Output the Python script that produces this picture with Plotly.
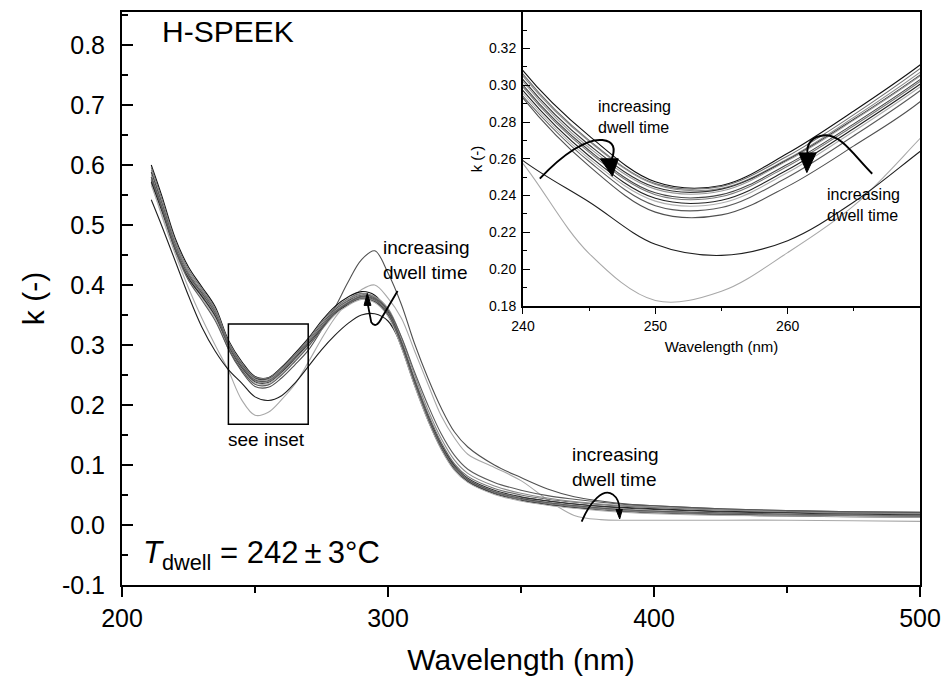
import plotly.graph_objects as go

# ---------------- data ----------------
wavelength = [211, 215, 220, 225, 230, 235, 240, 245, 250, 255, 260, 265, 270, 275, 280, 285,
              290, 295, 300, 305, 310, 315, 320, 325, 330, 340, 350, 360, 370, 380, 390, 400,
              425, 450, 475, 500]

k_c1 = [0.570, 0.515, 0.452, 0.395, 0.345, 0.300, 0.2574, 0.2085, 0.1830, 0.1880, 0.2090, 0.2345,
        0.271, 0.310, 0.345, 0.372, 0.392, 0.400, 0.378, 0.345, 0.290, 0.235, 0.182, 0.145, 0.118,
        0.096, 0.074, 0.042, 0.016, 0.009, 0.008, 0.008, 0.008, 0.008, 0.007, 0.006]
k_c2 = [0.542, 0.498, 0.440, 0.382, 0.330, 0.290, 0.259, 0.2365, 0.2135, 0.2075, 0.2155, 0.2365,
        0.264, 0.292, 0.316, 0.336, 0.350, 0.352, 0.340, 0.300, 0.238, 0.180, 0.132, 0.097, 0.076,
        0.056, 0.046, 0.040, 0.035, 0.031, 0.029, 0.027, 0.023, 0.021, 0.020, 0.019]
k_c3 = [0.575, 0.525, 0.458, 0.410, 0.380, 0.347, 0.293, 0.256, 0.2310, 0.2295, 0.2450, 0.2670,
        0.291, 0.325, 0.362, 0.405, 0.442, 0.457, 0.420, 0.368, 0.302, 0.245, 0.195, 0.155, 0.130,
        0.100, 0.079, 0.060, 0.047, 0.040, 0.035, 0.032, 0.027, 0.024, 0.022, 0.021]
k_c4 = [0.600, 0.548, 0.478, 0.430, 0.397, 0.364, 0.308, 0.2725, 0.2475, 0.2455, 0.2630, 0.2860,
        0.311, 0.340, 0.364, 0.380, 0.389, 0.383, 0.355, 0.302, 0.236, 0.177, 0.128, 0.094, 0.074,
        0.054, 0.044, 0.037, 0.032, 0.028, 0.025, 0.023, 0.019, 0.017, 0.016, 0.015]
k_c5 = [0.596, 0.543, 0.474, 0.426, 0.394, 0.361, 0.306, 0.2700, 0.2465, 0.2450, 0.2615, 0.2840,
        0.309, 0.337, 0.361, 0.377, 0.386, 0.380, 0.358, 0.308, 0.244, 0.186, 0.138, 0.102, 0.081,
        0.061, 0.050, 0.043, 0.038, 0.034, 0.031, 0.029, 0.025, 0.022, 0.020, 0.019]
k_c6 = [0.592, 0.539, 0.471, 0.423, 0.392, 0.359, 0.305, 0.2695, 0.2460, 0.2440, 0.2600, 0.2825,
        0.307, 0.334, 0.359, 0.375, 0.385, 0.381, 0.361, 0.313, 0.250, 0.192, 0.144, 0.108, 0.086,
        0.065, 0.053, 0.045, 0.039, 0.035, 0.032, 0.030, 0.025, 0.022, 0.020, 0.019]
k_c7 = [0.588, 0.535, 0.467, 0.419, 0.389, 0.356, 0.303, 0.2675, 0.2445, 0.2435, 0.2595, 0.2815,
        0.3055, 0.333, 0.358, 0.373, 0.383, 0.378, 0.355, 0.304, 0.240, 0.182, 0.134, 0.099, 0.078,
        0.058, 0.047, 0.040, 0.035, 0.031, 0.028, 0.026, 0.022, 0.020, 0.018, 0.017]
k_c8 = [0.584, 0.532, 0.465, 0.418, 0.388, 0.355, 0.302, 0.2660, 0.2435, 0.2425, 0.2590, 0.2810,
        0.305, 0.332, 0.357, 0.372, 0.382, 0.377, 0.353, 0.301, 0.237, 0.179, 0.131, 0.096, 0.076,
        0.056, 0.045, 0.038, 0.033, 0.029, 0.026, 0.024, 0.020, 0.018, 0.016, 0.015]
k_c9 = [0.580, 0.529, 0.462, 0.416, 0.386, 0.353, 0.300, 0.2645, 0.2415, 0.2405, 0.2570, 0.2790,
        0.303, 0.330, 0.355, 0.370, 0.380, 0.375, 0.352, 0.300, 0.236, 0.178, 0.130, 0.095, 0.075,
        0.055, 0.044, 0.037, 0.032, 0.028, 0.025, 0.023, 0.020, 0.018, 0.016, 0.015]
k_c10 = [0.576, 0.526, 0.460, 0.414, 0.384, 0.351, 0.299, 0.2635, 0.2405, 0.2395, 0.2560, 0.2780,
         0.302, 0.329, 0.354, 0.369, 0.379, 0.374, 0.351, 0.299, 0.235, 0.177, 0.129, 0.094, 0.074,
         0.054, 0.043, 0.036, 0.031, 0.027, 0.024, 0.022, 0.019, 0.017, 0.016, 0.015]
k_c11 = [0.572, 0.522, 0.457, 0.411, 0.381, 0.348, 0.297, 0.2615, 0.2385, 0.2375, 0.2540, 0.2765,
         0.3005, 0.327, 0.352, 0.367, 0.377, 0.372, 0.349, 0.297, 0.233, 0.175, 0.127, 0.092, 0.072,
         0.052, 0.041, 0.034, 0.029, 0.025, 0.022, 0.020, 0.017, 0.015, 0.014, 0.013]
k_c12 = [0.566, 0.518, 0.454, 0.408, 0.378, 0.345, 0.2955, 0.2600, 0.2370, 0.2360, 0.2525, 0.2750,
         0.299, 0.325, 0.350, 0.366, 0.376, 0.371, 0.348, 0.296, 0.232, 0.174, 0.126, 0.091, 0.071,
         0.051, 0.040, 0.033, 0.028, 0.024, 0.021, 0.019, 0.016, 0.015, 0.014, 0.013]
k_c13 = [0.580, 0.528, 0.460, 0.408, 0.375, 0.341, 0.294, 0.2585, 0.2345, 0.2335, 0.2500, 0.2725,
         0.297, 0.326, 0.353, 0.370, 0.381, 0.377, 0.358, 0.314, 0.255, 0.200, 0.152, 0.116, 0.093,
         0.071, 0.058, 0.049, 0.043, 0.038, 0.034, 0.032, 0.027, 0.024, 0.022, 0.021]

series = [k_c1, k_c2, k_c3, k_c4, k_c5, k_c6, k_c7, k_c8, k_c9, k_c10, k_c11, k_c12, k_c13]
colors = ["#a8a8a8", "#1e1e1e", "#505050", "#111111", "#6e6e6e", "#8a8a8a", "#333333",
          "#9a9a9a", "#444444", "#7a7a7a", "#222222", "#b0b0b0", "#5a5a5a"]

main_yticks = [-0.1, 0.0, 0.1, 0.2, 0.3, 0.4, 0.5, 0.6, 0.7, 0.8]
main_yticktext = ["-0.1", "0.0", "0.1", "0.2", "0.3", "0.4", "0.5", "0.6", "0.7", "0.8"]
main_xticks = [200, 300, 400, 500]
inset_xticks = [240, 250, 260]
inset_yticks = [0.18, 0.20, 0.22, 0.24, 0.26, 0.28, 0.30, 0.32]

FONT = "Liberation Sans, Arial, sans-serif"

fig = go.Figure()
for vals, col in zip(series, colors):
    fig.add_trace(go.Scatter(x=wavelength, y=vals, mode="lines",
                             line=dict(color=col, width=1.1, shape="spline", smoothing=1.0),
                             xaxis="x", yaxis="y", showlegend=False, hoverinfo="skip"))
for vals, col in zip(series, colors):
    fig.add_trace(go.Scatter(x=wavelength, y=vals, mode="lines",
                             line=dict(color=col, width=1.1, shape="spline", smoothing=1.0),
                             xaxis="x2", yaxis="y2", showlegend=False, hoverinfo="skip"))

axis_common = dict(showgrid=False, zeroline=False, linecolor="black", tickcolor="black",
                   showline=True, automargin=False)

fig.update_layout(
    template="none",
    width=943, height=676,
    margin=dict(l=122, r=23, t=12, b=91, autoexpand=False),
    paper_bgcolor="white", plot_bgcolor="white",
    font=dict(family=FONT, color="black"),
    xaxis=dict(**axis_common, domain=[0, 1], range=[200, 500], linewidth=2, mirror=True,
               tickvals=main_xticks, ticks="outside", ticklen=10, tickwidth=1.5,
               minor=dict(ticks="outside", ticklen=6, tickwidth=1.5, tickvals=[250, 350, 450],
                          tickcolor="black"),
               tickfont=dict(size=25), ticklabelstandoff=0,
               title=dict(text="Wavelength (nm)", font=dict(size=30), standoff=24),
               anchor="y"),
    yaxis=dict(**axis_common, domain=[0, 1], range=[-0.1, 0.855], linewidth=2, mirror=True,
               tickvals=main_yticks, ticktext=main_yticktext, ticks="inside", ticklen=11,
               tickwidth=1.5,
               minor=dict(ticks="inside", ticklen=6, tickwidth=1.5, dtick=0.05, tick0=0,
                          tickcolor="black"),
               tickfont=dict(size=25), ticklabelstandoff=10,
               title=dict(text="k (-)", font=dict(size=30), standoff=8),
               anchor="x"),
    xaxis2=dict(**axis_common, domain=[0.5025, 1.0], range=[240, 270], linewidth=2,
                tickvals=inset_xticks, ticks="outside", ticklen=6, tickwidth=1,
                minor=dict(ticks="outside", ticklen=3, tickwidth=1, tickvals=[245, 255, 265],
                           tickcolor="black"),
                tickfont=dict(size=14), ticklabelstandoff=0,
                title=dict(text="Wavelength (nm)", font=dict(size=15), standoff=9),
                anchor="y2"),
    yaxis2=dict(**axis_common, domain=[0.487, 1.0], range=[0.18, 0.3398], linewidth=2,
                tickvals=inset_yticks, tickformat=".2f", ticks="inside", ticklen=7, tickwidth=1,
                minor=dict(ticks="inside", ticklen=4, tickwidth=1, dtick=0.01, tick0=0.18,
                           tickcolor="black"),
                tickfont=dict(size=14), ticklabelstandoff=2,
                title=dict(text="k (-)", font=dict(size=15), standoff=3),
                anchor="x2"),
)

shapes = []
# "see inset" box
shapes.append(dict(type="rect", xref="x", yref="y", x0=240, x1=270, y0=0.168, y1=0.335,
                   line=dict(color="black", width=1.5)))
# main peak arrow (loop)
shapes.append(dict(type="path", xref="x", yref="y",
                   path="M 303.6 0.3900 L 297.6 0.345 Q 295.5 0.326 293.7 0.338 L 292.4 0.368",
                   line=dict(color="black", width=1.8)))
shapes.append(dict(type="path", xref="x", yref="y",
                   path="M 291.0 0.366 L 293.6 0.366 L 292.2 0.386 Z",
                   fillcolor="black", line=dict(color="black", width=1)))
# tail arrow
shapes.append(dict(type="path", xref="x", yref="y",
                   path="M 372.8 0.0055 C 376 0.040 381 0.062 384.5 0.051 C 386.6 0.044 387.1 0.034 387.0 0.024",
                   line=dict(color="black", width=1.8)))
shapes.append(dict(type="path", xref="x", yref="y",
                   path="M 385.7 0.026 L 388.1 0.026 L 387.1 0.010 Z",
                   fillcolor="black", line=dict(color="black", width=1)))
# inset arrows
shapes.append(dict(type="path", xref="x2", yref="y2",
                   path="M 241.27 0.2492 C 243.0 0.2625 244.8 0.2712 246.0 0.2702 C 246.9 0.2695 247.0 0.2655 246.7 0.2595",
                   line=dict(color="black", width=2)))
shapes.append(dict(type="path", xref="x2", yref="y2",
                   path="M 245.85 0.2600 L 247.2 0.2600 L 246.75 0.2505 Z",
                   fillcolor="black", line=dict(color="black", width=1)))
shapes.append(dict(type="path", xref="x2", yref="y2",
                   path="M 266.39 0.2519 C 265.0 0.2620 264.0 0.2735 262.8 0.2728 C 261.8 0.2722 261.4 0.2680 261.5 0.2625",
                   line=dict(color="black", width=2)))
shapes.append(dict(type="path", xref="x2", yref="y2",
                   path="M 260.85 0.2632 L 262.15 0.2632 L 261.45 0.2525 Z",
                   fillcolor="black", line=dict(color="black", width=1)))
fig.update_layout(shapes=shapes)

ann = []
ann.append(dict(text="H-SPEEK", x=214.3, y=0.823, xref="x", yref="y", xanchor="left",
                yanchor="middle", showarrow=False, font=dict(size=30)))
ann.append(dict(text="<i>T</i><sub>dwell</sub> = 242\u2009±\u20093°C", x=0.024, y=-0.050,
                xref="paper", yref="y", xanchor="left", yanchor="middle", showarrow=False,
                font=dict(size=31)))
ann.append(dict(text="increasing<br>dwell time", x=297.3, y=0.483, xref="x", yref="y",
                xanchor="left", yanchor="top", align="left", showarrow=False,
                font=dict(size=19)))
ann.append(dict(text="see inset", x=254.5, y=0.143, xref="x", yref="y",
                xanchor="center", yanchor="middle", showarrow=False, font=dict(size=19)))
ann.append(dict(text="increasing<br>dwell time", x=368.5, y=0.138, xref="x", yref="y",
                xanchor="left", yanchor="top", align="left", showarrow=False,
                font=dict(size=19)))
ann.append(dict(text="increasing<br>dwell time", x=245.5, y=0.2940, xref="x2", yref="y2",
                xanchor="left", yanchor="top", align="left", showarrow=False,
                font=dict(size=16)))
ann.append(dict(text="increasing<br>dwell time", x=262.8, y=0.2463, xref="x2", yref="y2",
                xanchor="left", yanchor="top", align="left", showarrow=False,
                font=dict(size=16)))
fig.update_layout(annotations=ann)

fig.write_html("out.html")
